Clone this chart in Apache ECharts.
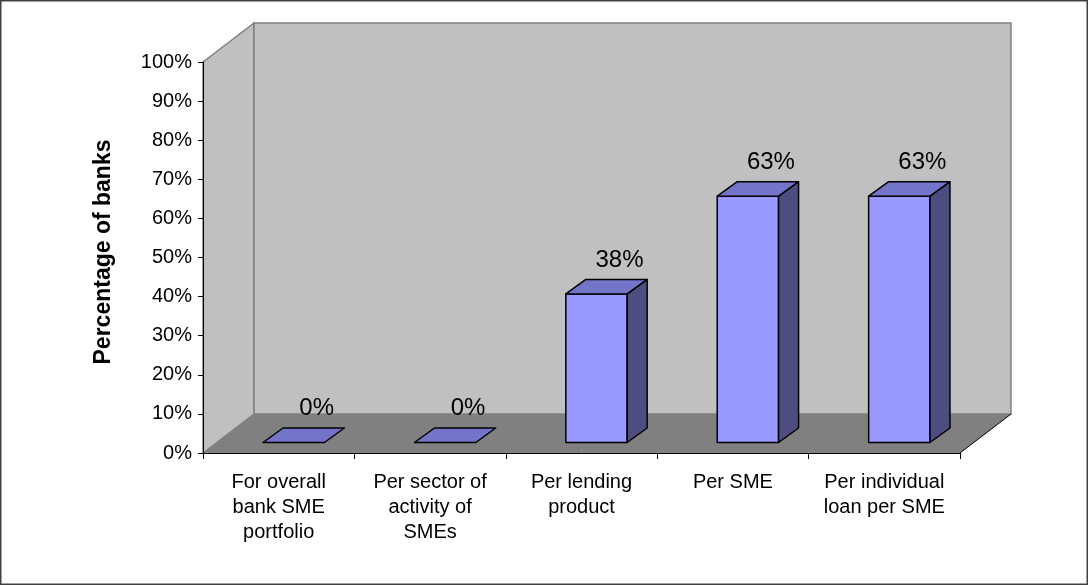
<!DOCTYPE html>
<html>
<head>
<meta charset="utf-8">
<script src="https://cdn.jsdelivr.net/npm/echarts@6/dist/echarts.min.js"></script>
<style>
  html, body { margin: 0; padding: 0; background: #ffffff; }
  #chart { width: 1088px; height: 585px; }
</style>
</head>
<body>
<div id="chart"></div>
<script>
// Categories of risk-limit setting and the share of banks (in %) using each
const categories = [
  'For overall\nbank SME\nportfolio',
  'Per sector of\nactivity of\nSMEs',
  'Per lending\nproduct',
  'Per SME',
  'Per individual\nloan per SME'
];
const shareOfBanks = [0, 0, 38, 63, 63];
const yAxisTitle = 'Percentage of banks';

// Pseudo-3D geometry (pixels)
const WALL_DX = 51, WALL_DY = -39;        // depth of the walls / floor
const BAR_SHIFT_X = 15, BAR_SHIFT_Y = -10.5; // bars sit partway into the floor
const BAR_DEPTH_X = 20, BAR_DEPTH_Y = -14.5;
const BAR_WIDTH_RATIO = 0.405;
const LABEL_DX = 23, LABEL_DY = -34;
const FONT = '"Liberation Sans", Arial, sans-serif';

const chart = echarts.init(document.getElementById('chart'), null, { renderer: 'canvas' });

function renderWalls(params, api) {
  const cs = params.coordSys;
  const x0 = cs.x, x1 = cs.x + cs.width, yt = cs.y, yb = cs.y + cs.height;
  const dx = WALL_DX, dy = WALL_DY;
  return {
    type: 'group',
    children: [
      { // left side wall
        type: 'polygon',
        shape: { points: [[x0, yt], [x0 + dx, yt + dy], [x0 + dx, yb + dy], [x0, yb]] },
        style: { fill: '#c0c0c0', stroke: '#808080', lineWidth: 1.5 }
      },
      { // back wall
        type: 'rect',
        shape: { x: x0 + dx, y: yt + dy, width: x1 - x0, height: yb - yt },
        style: { fill: '#c0c0c0', stroke: '#808080', lineWidth: 1.5 }
      },
      { // floor
        type: 'polygon',
        shape: { points: [[x0, yb], [x0 + dx, yb + dy], [x1 + dx, yb + dy], [x1, yb]] },
        style: { fill: '#808080' }
      },
      { // right edge of the floor
        type: 'line',
        shape: { x1: x1, y1: yb, x2: x1 + dx, y2: yb + dy },
        style: { stroke: '#000000', lineWidth: 1 }
      }
    ]
  };
}

function renderBar(params, api) {
  const idx = api.value(0);
  const v = api.value(1);
  const base = api.coord([idx, 0]);
  const top = api.coord([idx, v]);
  const w = api.size([1, 0])[0] * BAR_WIDTH_RATIO;
  const cx = base[0] + BAR_SHIFT_X;
  const l = cx - w / 2, r = cx + w / 2;
  const yb = base[1] + BAR_SHIFT_Y;
  const yt = top[1] + BAR_SHIFT_Y;
  const dx = BAR_DEPTH_X, dy = BAR_DEPTH_Y;
  const edge = { stroke: '#000000', lineWidth: 1.5, lineJoin: 'round' };
  const children = [];
  if (yb - yt > 0.5) {
    children.push({
      type: 'rect',
      shape: { x: l, y: yt, width: r - l, height: yb - yt },
      style: Object.assign({ fill: '#9999ff' }, edge)
    });
    children.push({
      type: 'polygon',
      shape: { points: [[r, yt], [r + dx, yt + dy], [r + dx, yb + dy], [r, yb]] },
      style: Object.assign({ fill: '#4d4d80' }, edge)
    });
  }
  children.push({
    type: 'polygon',
    shape: { points: [[l, yt], [l + dx, yt + dy], [r + dx, yt + dy], [r, yt]] },
    style: Object.assign({ fill: '#7474c8' }, edge)
  });
  children.push({
    type: 'text',
    x: cx + LABEL_DX,
    y: yt + LABEL_DY,
    style: {
      text: v + '%',
      fill: '#000000',
      font: '24px ' + FONT,
      align: 'center',
      verticalAlign: 'middle',
      textAlign: 'center',
      textVerticalAlign: 'middle'
    }
  });
  return { type: 'group', children: children };
}

const option = {
  animation: false,
  backgroundColor: '#ffffff',
  grid: { left: 203, right: 128, top: 62, bottom: 132 },
  xAxis: {
    type: 'category',
    data: categories,
    z: 10,
    axisLine: { show: true, lineStyle: { color: '#000000', width: 1 } },
    axisTick: { show: true, alignWithLabel: false, length: 6, lineStyle: { color: '#000000' } },
    axisLabel: {
      interval: 0,
      margin: 17,
      color: '#000000',
      fontFamily: FONT,
      fontSize: 20,
      lineHeight: 25
    },
    splitLine: { show: false }
  },
  yAxis: {
    type: 'value',
    min: 0,
    max: 100,
    interval: 10,
    z: 10,
    axisLine: { show: true, lineStyle: { color: '#000000', width: 1 } },
    axisTick: { show: true, length: 5, lineStyle: { color: '#000000' } },
    axisLabel: {
      formatter: '{value}%',
      margin: 11,
      color: '#000000',
      fontFamily: FONT,
      fontSize: 20
    },
    splitLine: { show: false }
  },
  graphic: [
    {
      type: 'rect',
      shape: { x: 0.75, y: 0.75, width: 1086.5, height: 583.5 },
      style: { fill: 'none', stroke: '#404040', lineWidth: 1.5 },
      silent: true,
      z: 100
    },
    {
      type: 'text',
      x: 104,
      y: 252,
      rotation: Math.PI / 2,
      style: {
        text: yAxisTitle,
        fill: '#000000',
        font: 'bold 23px ' + FONT,
        align: 'center',
        verticalAlign: 'middle',
        textAlign: 'center',
        textVerticalAlign: 'middle'
      },
      silent: true
    }
  ],
  series: [
    {
      type: 'custom',
      name: 'walls',
      silent: true,
      z: 1,
      renderItem: renderWalls,
      data: [[0, 0]]
    },
    {
      type: 'custom',
      name: 'Percentage of banks',
      silent: true,
      z: 2,
      renderItem: renderBar,
      data: shareOfBanks.map((v, i) => [i, v])
    }
  ]
};

chart.setOption(option);
</script>
</body>
</html>
